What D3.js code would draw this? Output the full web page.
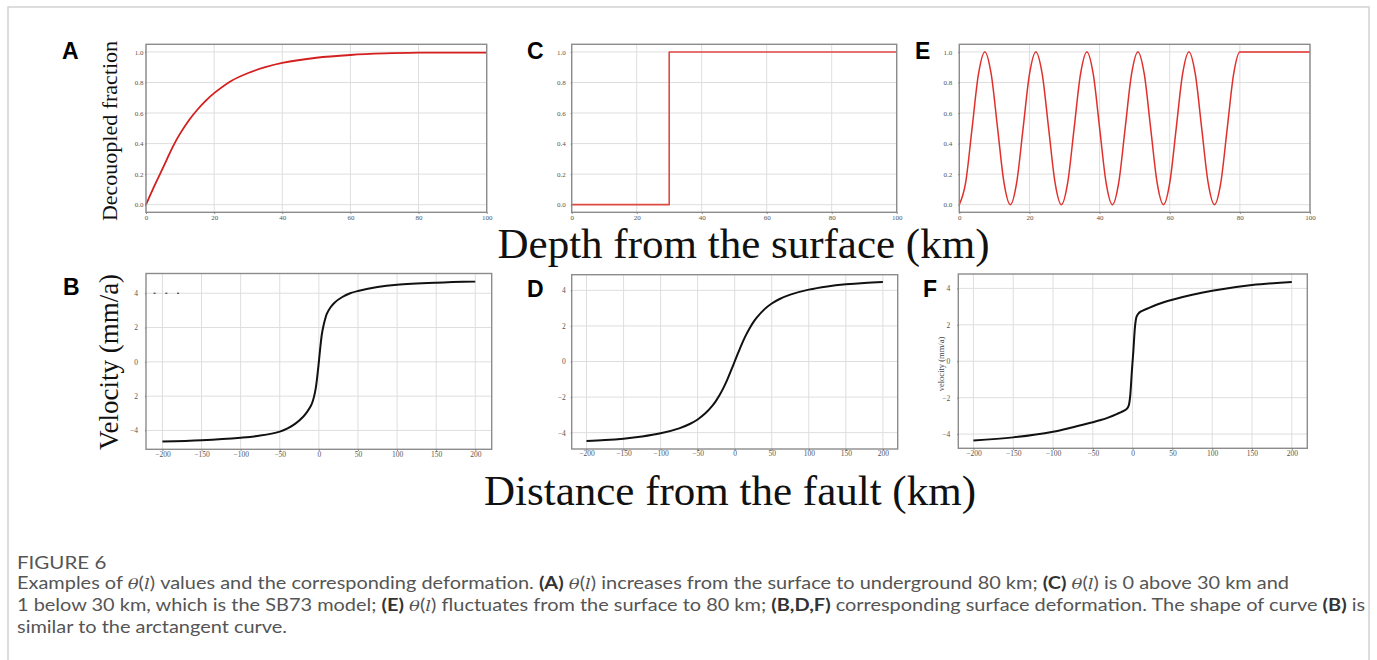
<!DOCTYPE html>
<html>
<head>
<meta charset="utf-8">
<script src="https://cdnjs.cloudflare.com/ajax/libs/d3/7.8.5/d3.min.js"></script>
<style>
body { margin: 0; background: #fff; }
.tick text { font-family: "Liberation Serif", "Times New Roman", serif; fill: #555; }
.tick line { stroke: #777; }
</style>
</head>
<body>
<div id="canvas"></div>
<script>
// tick values
var depthTicks = [0, 20, 40, 60, 80, 100]
var fracTicks = [0, 0.2, 0.4, 0.6, 0.8, 1.0]
var distTicks = [-200, -150, -100, -50, 0, 50, 100, 150, 200]
var velTicks = [-4, -2, 0, 2, 4]

// panel A: decoupled fraction vs depth
var depthA = [0, 2, 4, 6, 8, 10, 12.5, 15, 17.5, 20, 25, 30, 35, 40, 50, 60, 70, 80, 90, 100]
var fracA = [0, 0.1, 0.195, 0.29, 0.385, 0.465, 0.55, 0.62, 0.68, 0.73, 0.81, 0.862, 0.9, 0.928, 0.962, 0.98, 0.99, 0.995, 0.996, 0.996]

// panel C: step at 30 km
var depthC = [0, 30, 30, 100]
var fracC = [0, 0, 1, 1]

// panel E: oscillating to 80 km
var depthE = [0, 1.82, 3.64, 5.46, 7.28, 9.10, 10.92, 12.73, 14.55, 16.37, 18.19, 20.01, 21.83, 23.65, 25.47, 27.29,
    29.10, 30.92, 32.74, 34.56, 36.38, 38.20, 40.02, 41.84, 43.66, 45.47, 47.29, 49.11, 50.93, 52.75, 54.57, 56.39,
    58.21, 60.03, 61.85, 63.66, 65.48, 67.30, 69.12, 70.94, 72.76, 74.58, 76.40, 78.22, 80.0, 100]
var fracE = [0, 0.146, 0.5, 0.854, 1, 0.854, 0.5, 0.146, 0, 0.146, 0.5, 0.854, 1, 0.854, 0.5, 0.146,
    0, 0.146, 0.5, 0.854, 1, 0.854, 0.5, 0.146, 0, 0.146, 0.5, 0.854, 1, 0.854, 0.5, 0.146,
    0, 0.146, 0.5, 0.854, 1, 0.854, 0.5, 0.146, 0, 0.146, 0.5, 0.854, 1, 1]

// panel B: velocity vs distance
var distB = [-200, -150, -100, -75, -50, -40, -30, -20, -15, -10, -8, -6, -4, -2, 0, 2, 4, 6, 8, 10, 15, 20, 30, 40, 50, 75, 100, 150, 200]
var velB = [-4.65, -4.57, -4.42, -4.3, -4.07, -3.88, -3.6, -3.2, -2.92, -2.55, -2.32, -2.0, -1.55, -0.85, 0, 0.9, 1.65, 2.12, 2.48, 2.78, 3.18, 3.45, 3.78, 4.0, 4.13, 4.36, 4.49, 4.61, 4.68]
var markB = [-210, -195, -180]

// panel D
var distD = [-200, -175, -150, -125, -100, -75, -60, -50, -40, -30, -25, -20, -15, -10, -5, 0, 5, 10, 15, 20, 25, 30, 40, 50, 60, 75, 100, 125, 150, 175, 200]
var velD = [-4.47, -4.42, -4.34, -4.22, -4.04, -3.76, -3.5, -3.26, -2.93, -2.48, -2.2, -1.86, -1.47, -1.02, -0.52, 0,
    0.52, 1.02, 1.47, 1.86, 2.2, 2.48, 2.93, 3.26, 3.5, 3.76, 4.04, 4.22, 4.34, 4.42, 4.47]

// panel F
var distF = [-200, -150, -100, -75, -50, -40, -30, -20, -10, -7, -5, -4, -3, -2, -1, 0, 1, 2, 3, 4, 5, 7, 10, 20, 30, 40, 50, 75, 100, 150, 200]
var velF = [-4.35, -4.18, -3.87, -3.62, -3.35, -3.23, -3.08, -2.9, -2.7, -2.6, -2.45, -2.25, -1.9, -1.3, -0.6, 0,
    0.6, 1.3, 1.9, 2.25, 2.45, 2.6, 2.72, 2.92, 3.1, 3.25, 3.38, 3.65, 3.87, 4.18, 4.35]

var width = 1377
var height = 660

var svg = d3.select("#canvas")
    .append("svg")
    .attr("width", width)
    .attr("height", height)
    .style("display", "block")

// outer figure border
svg.append("rect")
    .attr("x", 8).attr("y", 7)
    .attr("width", 1361).attr("height", 700)
    .attr("fill", "none")
    .attr("stroke", "#d2d2d2")
    .attr("stroke-width", 1.5)

var smooth = d3.curveCatmullRom.alpha(0.5)

var panels = [
    { letter: "A", lx: 62, ly: 59, box: [146, 44.3, 486.7, 212.3], xd: [0, 100], yd: [-0.05, 1.05], xt: depthTicks, yt: fracTicks,
      xs: depthA, ys: fracA, color: "#d41f1f", w: 1.8, curve: smooth, gap: 1.5, fs: 7, yfmt: d3.format(".1f") },
    { letter: "C", lx: 527, ly: 59, box: [571.7, 44.3, 896.7, 212.3], xd: [0, 100], yd: [-0.05, 1.05], xt: depthTicks, yt: fracTicks,
      xs: depthC, ys: fracC, color: "#e04a44", w: 1.6, curve: d3.curveLinear, gap: 5, fs: 7, yfmt: d3.format(".1f") },
    { letter: "E", lx: 915, ly: 59, box: [959.3, 44.3, 1310, 212.3], xd: [0, 100], yd: [-0.05, 1.05], xt: depthTicks, yt: fracTicks,
      xs: depthE, ys: fracE, color: "#e0302c", w: 1.5, curve: d3.curveMonotoneX, gap: 6, fs: 7, yfmt: d3.format(".1f") },
    { letter: "B", lx: 63, ly: 295, box: [146, 273.5, 491.7, 449.3], xd: [-221, 221], yd: [-5.1, 5.15], xt: distTicks, yt: velTicks,
      xs: distB, ys: velB, color: "#111", w: 2, curve: smooth, gap: 7, fs: 7.5,
      yfmt: function (d) { return d === -2 ? "2" : d3.format("")(d) } },
    { letter: "D", lx: 527, ly: 296.5, box: [571.7, 274.7, 897.7, 449], xd: [-220, 220], yd: [-4.92, 4.88], xt: distTicks, yt: velTicks,
      xs: distD, ys: velD, color: "#111", w: 2, curve: smooth, gap: 5, fs: 7.5, yfmt: d3.format("") },
    { letter: "F", lx: 923, ly: 296.5, box: [958.3, 274, 1307.3, 448.3], xd: [-219, 219.5], yd: [-4.78, 4.79], xt: distTicks, yt: velTicks,
      xs: distF, ys: velF, color: "#111", w: 2, curve: smooth, gap: 7, fs: 7.5, yfmt: d3.format("") }
]

panels.forEach(drawPanel)

function drawPanel(p) {
    var x0 = p.box[0], y0 = p.box[1], x1 = p.box[2], y1 = p.box[3]
    var xScale = d3.scaleLinear().domain(p.xd).range([x0, x1])
    var yScale = d3.scaleLinear().domain(p.yd).range([y1, y0])
    var g = svg.append("g")

    // grid
    g.selectAll(".vgrid").data(p.xt).enter().append("line")
        .attr("x1", function (d) { return xScale(d) }).attr("x2", function (d) { return xScale(d) })
        .attr("y1", y0).attr("y2", y1)
        .attr("stroke", "#dedede").attr("stroke-width", 1)
    g.selectAll(".hgrid").data(p.yt).enter().append("line")
        .attr("x1", x0).attr("x2", x1)
        .attr("y1", function (d) { return yScale(d) }).attr("y2", function (d) { return yScale(d) })
        .attr("stroke", "#dedede").attr("stroke-width", 1)

    var pts = p.xs.map(function (d, i) { return [d, p.ys[i]] })
    var line = d3.line()
        .x(function (d) { return xScale(d[0]) })
        .y(function (d) { return yScale(d[1]) })
        .curve(p.curve)
    g.append("path")
        .datum(pts)
        .attr("d", line)
        .attr("fill", "none")
        .attr("stroke", p.color)
        .attr("stroke-width", p.w)
        .attr("stroke-linejoin", "round")

    // frame
    g.append("rect")
        .attr("x", x0).attr("y", y0)
        .attr("width", x1 - x0).attr("height", y1 - y0)
        .attr("fill", "none")
        .attr("stroke", "#8c8c8c")
        .attr("stroke-width", 1.4)

    var xAxis = g.append("g")
        .attr("transform", `translate(0,${y1})`)
        .call(d3.axisBottom(xScale).tickValues(p.xt).tickSize(1.5).tickPadding(p.fs > 7 ? 0.5 : 1))
    var yAxis = g.append("g")
        .attr("transform", `translate(${x0},0)`)
        .call(d3.axisLeft(yScale).tickValues(p.yt).tickFormat(p.yfmt).tickSize(1).tickPadding(p.gap))
    xAxis.select(".domain").remove()
    yAxis.select(".domain").remove()
    g.selectAll(".tick text").style("font-size", p.fs + "px")

    svg.append("text")
        .attr("x", p.lx).attr("y", p.ly)
        .attr("font-family", "Liberation Sans, Arial, sans-serif")
        .attr("font-weight", "bold")
        .attr("font-size", 23)
        .attr("fill", "#000")
        .text(p.letter)

    if (p.letter === "B") {
        // little stray dashes near the top left
        g.selectAll(".mark").data(markB).enter().append("line")
            .attr("x1", function (d) { return xScale(d) - 1 }).attr("x2", function (d) { return xScale(d) + 1 })
            .attr("y1", yScale(4)).attr("y2", yScale(4))
            .attr("stroke", "#222").attr("stroke-width", 1)
    }
}

var serif = "Liberation Serif, Times New Roman, serif"

svg.append("text")
    .attr("transform", "translate(116.5,131) rotate(-90)")
    .attr("text-anchor", "middle")
    .attr("font-family", serif).attr("font-size", 22)
    .attr("fill", "#111")
    .text("Decouopled fraction")

svg.append("text")
    .attr("transform", "translate(118,362) rotate(-90)")
    .attr("text-anchor", "middle")
    .attr("font-family", serif).attr("font-size", 27)
    .attr("fill", "#111")
    .text("Velocity (mm/a)")

svg.append("text")
    .attr("transform", "translate(943.5,364) rotate(-90)")
    .attr("text-anchor", "middle")
    .attr("font-family", serif).attr("font-size", 8.5)
    .attr("fill", "#444")
    .text("velocity (mm/a)")

svg.append("text")
    .attr("x", 743.5).attr("y", 258)
    .attr("text-anchor", "middle")
    .attr("font-family", serif).attr("font-size", 43)
    .attr("fill", "#111")
    .text("Depth from the surface (km)")

svg.append("text")
    .attr("x", 730).attr("y", 505)
    .attr("text-anchor", "middle")
    .attr("font-family", serif).attr("font-size", 43)
    .attr("fill", "#111")
    .text("Distance from the fault (km)")

// caption
var capFont = "Lato, Open Sans, sans-serif"
var figLabel = svg.append("text")
    .attr("x", 17).attr("y", 568.5)
    .attr("font-family", capFont).attr("font-size", 17)
    .attr("fill", "#555")
    .text("FIGURE 6")

var capLines = [
    { y: 589, parts: [["Examples of ", 0], ["θ", 2], ["(", 0], ["l", 2], [")", 0], [" values and the corresponding deformation. ", 0], ["(A)", 1], [" ", 0],
        ["θ", 2], ["(", 0], ["l", 2], [")", 0], [" increases from the surface to underground 80 km; ", 0], ["(C)", 1], [" ", 0], ["θ", 2], ["(", 0], ["l", 2], [")", 0], [" is 0 above 30 km and", 0]] },
    { y: 611, parts: [["1 below 30 km, which is the SB73 model; ", 0], ["(E)", 1], [" ", 0], ["θ", 2], ["(", 0], ["l", 2], [")", 0],
        [" fluctuates from the surface to 80 km; ", 0], ["(B,D,F)", 1], [" corresponding surface deformation. The shape of curve ", 0], ["(B)", 1], [" is", 0]] },
    { y: 633, parts: [["similar to the arctangent curve.", 0]] }
]

var capNodes = capLines.map(function (ln) {
    var t = svg.append("text")
        .attr("x", 17).attr("y", ln.y)
        .attr("font-family", capFont).attr("font-size", 16.5)
        .attr("fill", "#555")
        .attr("xml:space", "preserve")
    ln.parts.forEach(function (pt) {
        var s = t.append("tspan").text(pt[0])
        if (pt[1] === 1) s.attr("font-weight", "bold").attr("fill", "#333")
        if (pt[1] === 2) s.attr("font-family", "DejaVu Serif, serif").attr("font-style", "italic").attr("font-size", 15)
    })
    return t
})

// condense every caption line by the same factor so line 1 spans the width seen
var k = 1272 / capNodes[0].node().getComputedTextLength()
capNodes.forEach(function (t) {
    t.attr("textLength", t.node().getComputedTextLength() * k).attr("lengthAdjust", "spacingAndGlyphs")
})
figLabel.attr("textLength", figLabel.node().getComputedTextLength() * k).attr("lengthAdjust", "spacingAndGlyphs")
</script>
</body>
</html>
